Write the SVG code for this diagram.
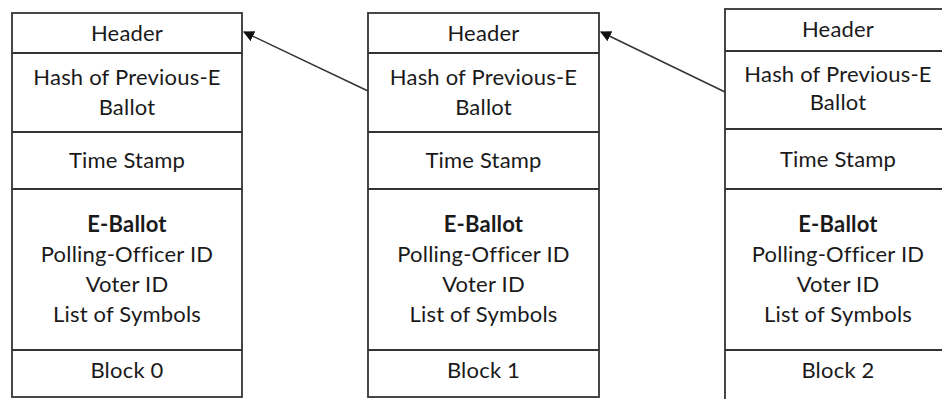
<svg xmlns="http://www.w3.org/2000/svg" width="942" height="399" viewBox="0 0 942 399">
<style>
.box{fill:#fff;stroke:#333;stroke-width:1.8}
.div{stroke:#333;stroke-width:1.8}
text{font-family:Lato,"Open Sans",sans-serif;font-size:22px;fill:#1a1a1a;text-anchor:middle;letter-spacing:0.2px}
.b{font-weight:bold}
.conn{stroke:#333;stroke-width:1.5;fill:none}
</style>
<defs>
<marker id="ah" viewBox="0 0 10 10" refX="9" refY="5" markerWidth="11" markerHeight="11" markerUnits="userSpaceOnUse" orient="auto">
<path d="M0,0 L10,5 L0,10 z" fill="#111"/>
</marker>
</defs>
<rect width="942" height="399" fill="#fff"/>
<g id="block0">
<rect class="box" x="12" y="13" width="230" height="384"/>
<line class="div" x1="12" y1="53" x2="242" y2="53"/>
<line class="div" x1="12" y1="132" x2="242" y2="132"/>
<line class="div" x1="12" y1="189" x2="242" y2="189"/>
<line class="div" x1="12" y1="350" x2="242" y2="350"/>
<text x="127" y="41">Header</text>
<text x="127" y="85">Hash of Previous-E</text>
<text x="127" y="115">Ballot</text>
<text x="127" y="168">Time Stamp</text>
<text class="b" x="127" y="232">E-Ballot</text>
<text x="127" y="262">Polling-Officer ID</text>
<text x="127" y="292">Voter ID</text>
<text x="127" y="322">List of Symbols</text>
<text x="127" y="378">Block 0</text>
</g>
<g id="block1">
<rect class="box" x="368" y="13" width="231" height="384"/>
<line class="div" x1="368" y1="53" x2="599" y2="53"/>
<line class="div" x1="368" y1="132" x2="599" y2="132"/>
<line class="div" x1="368" y1="189" x2="599" y2="189"/>
<line class="div" x1="368" y1="350" x2="599" y2="350"/>
<text x="483.5" y="41">Header</text>
<text x="483.5" y="85">Hash of Previous-E</text>
<text x="483.5" y="115">Ballot</text>
<text x="483.5" y="168">Time Stamp</text>
<text class="b" x="483.5" y="232">E-Ballot</text>
<text x="483.5" y="262">Polling-Officer ID</text>
<text x="483.5" y="292">Voter ID</text>
<text x="483.5" y="322">List of Symbols</text>
<text x="483.5" y="378">Block 1</text>
</g>
<g id="block2">
<rect class="box" x="725" y="9" width="231" height="400"/>
<line class="div" x1="725" y1="51" x2="956" y2="51"/>
<line class="div" x1="725" y1="129" x2="956" y2="129"/>
<line class="div" x1="725" y1="189" x2="956" y2="189"/>
<line class="div" x1="725" y1="350" x2="956" y2="350"/>
<text x="838" y="37">Header</text>
<text x="838" y="82">Hash of Previous-E</text>
<text x="838" y="110">Ballot</text>
<text x="838" y="167">Time Stamp</text>
<text class="b" x="838" y="232">E-Ballot</text>
<text x="838" y="262">Polling-Officer ID</text>
<text x="838" y="292">Voter ID</text>
<text x="838" y="322">List of Symbols</text>
<text x="838" y="378">Block 2</text>
</g>
<g id="connectors">
<line class="conn" x1="368" y1="91" x2="244" y2="32" marker-end="url(#ah)"/>
<line class="conn" x1="725" y1="92" x2="601" y2="32" marker-end="url(#ah)"/>
</g>
</svg>
